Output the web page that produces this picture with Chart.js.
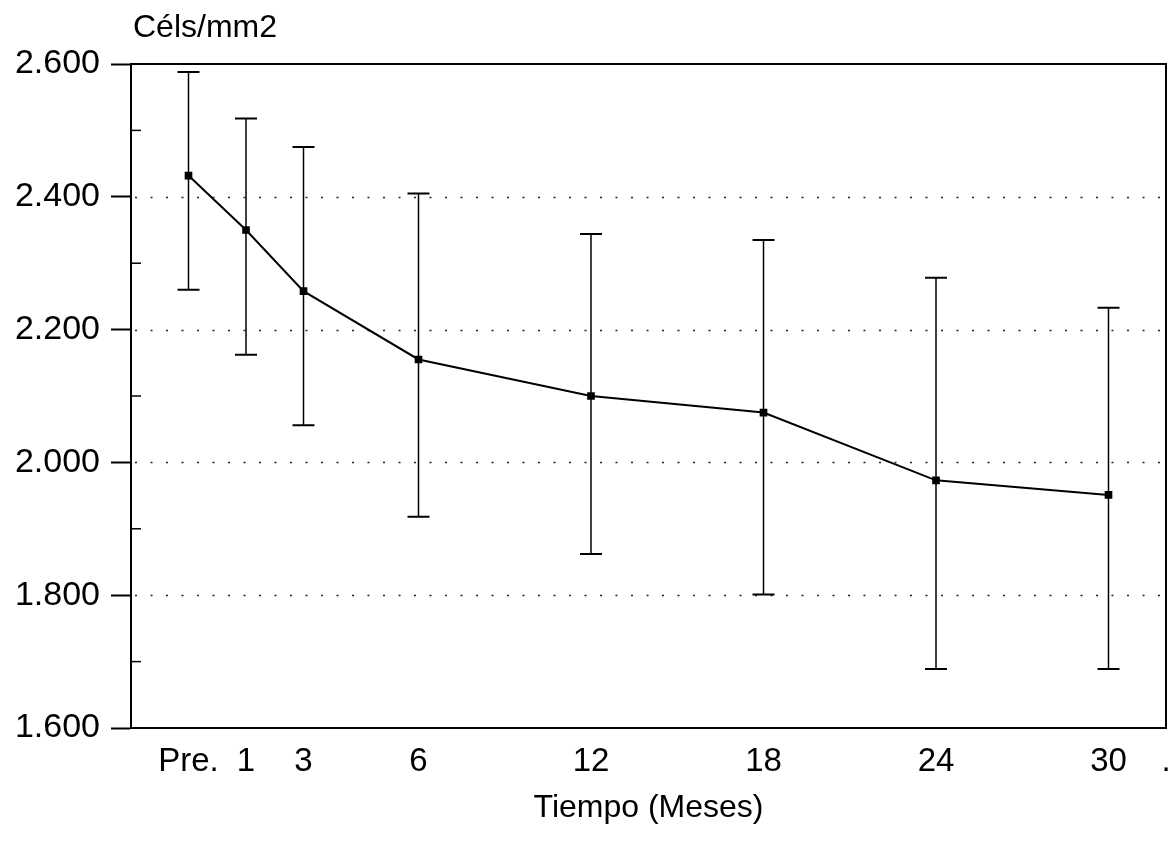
<!DOCTYPE html>
<html>
<head>
<meta charset="utf-8">
<script src="https://cdn.jsdelivr.net/npm/chart.js@4.4.1/dist/chart.umd.min.js"></script>
<style>
  html, body { margin: 0; padding: 0; background: #ffffff; }
  #wrap { width: 1172px; height: 846px; }
</style>
</head>
<body>
<div id="wrap"><canvas id="c" width="1172" height="846"></canvas></div>
<script>
// Category slots of the time axis (blank slots keep the original uneven spacing)
const slotLabels = ['', 'Pre.', '1', '3', '', '6', '', '', '12', '', '', '18', '', '', '24', '', '', '30', '.'];
// Time points (months)
const months = ['Pre.', '1', '3', '6', '12', '18', '24', '30'];
// Mean cell density (cells/mm2)
const means = [2432, 2350, 2258, 2155, 2100, 2075, 1973, 1951];
// Upper and lower ends of the error bars
const upper = [2588, 2518, 2475, 2405, 2344, 2335, 2278, 2233];
const lower = [2260, 2162, 2056, 1918, 1862, 1801, 1689, 1689];
// Y axis range and tick steps
const yMin = 1600, yMax = 2600, yMajor = 200, yMinor = 100;

const INK = '#000000';
const FONT = '"Liberation Sans", Arial, Helvetica, sans-serif';

function fmtThousands(v) {
  const th = Math.floor(v / 1000);
  const rest = String(Math.round(v % 1000)).padStart(3, '0');
  return th + '.' + rest;
}

const framePlugin = {
  id: 'frame',
  afterDraw(chart) {
    const { ctx, chartArea: a } = chart;
    ctx.save();
    ctx.strokeStyle = INK;
    ctx.lineWidth = 2;
    ctx.beginPath();
    ctx.moveTo(a.left, a.top);
    ctx.lineTo(a.right, a.top);
    ctx.lineTo(a.right, a.bottom);
    ctx.stroke();
    // minor ticks inside the left axis
    const ys = chart.scales.y;
    ctx.lineWidth = 1.5;
    ys.ticks.forEach(t => {
      if (t.value % yMajor !== 0) {
        const y = ys.getPixelForValue(t.value);
        ctx.beginPath();
        ctx.moveTo(a.left, y);
        ctx.lineTo(a.left + 10, y);
        ctx.stroke();
      }
    });
    // unit label
    ctx.fillStyle = INK;
    ctx.font = '32px ' + FONT;
    ctx.textAlign = 'left';
    ctx.textBaseline = 'alphabetic';
    ctx.fillText('Céls/mm2', a.left + 2, 37);
    ctx.restore();
  }
};

const dottedGridPlugin = {
  id: 'dottedGrid',
  beforeDatasetsDraw(chart) {
    const { ctx, chartArea: a } = chart;
    const ys = chart.scales.y;
    ctx.save();
    ctx.strokeStyle = '#222222';
    ctx.lineWidth = 1.6;
    ctx.setLineDash([2, 13.5]);
    ys.ticks.forEach(t => {
      if (t.value % yMajor === 0 && t.value > ys.min && t.value < ys.max) {
        const y = Math.round(ys.getPixelForValue(t.value)) + 0.5;
        ctx.beginPath();
        ctx.moveTo(a.left + 4, y);
        ctx.lineTo(a.right, y);
        ctx.stroke();
      }
    });
    ctx.restore();
  }
};

const errorBarPlugin = {
  id: 'errorBars',
  beforeDatasetsDraw(chart) {
    const { ctx } = chart;
    const ys = chart.scales.y;
    const xs = chart.scales.x;
    ctx.save();
    ctx.strokeStyle = INK;
    months.forEach((m, i) => {
      const x = xs.getPixelForValue(slotLabels.indexOf(m));
      const yHi = ys.getPixelForValue(upper[i]);
      const yLo = ys.getPixelForValue(lower[i]);
      ctx.lineWidth = 1.5;
      ctx.beginPath();
      ctx.moveTo(x, yHi);
      ctx.lineTo(x, yLo);
      ctx.stroke();
      ctx.lineWidth = 2;
      ctx.beginPath();
      ctx.moveTo(x - 11, yHi);
      ctx.lineTo(x + 11, yHi);
      ctx.moveTo(x - 11, yLo);
      ctx.lineTo(x + 11, yLo);
      ctx.stroke();
    });
    ctx.restore();
  }
};

new Chart(document.getElementById('c'), {
  type: 'line',
  data: {
    labels: slotLabels,
    datasets: [{
      data: months.map((m, i) => ({ x: m, y: means[i] })),
      borderColor: INK,
      borderWidth: 2,
      pointStyle: 'rect',
      pointRadius: 4,
      pointBackgroundColor: INK,
      pointBorderColor: INK,
      tension: 0,
      fill: false
    }]
  },
  options: {
    responsive: false,
    animation: false,
    devicePixelRatio: 1,
    layout: { padding: { top: 64, right: 4, left: 0, bottom: 0 } },
    plugins: { legend: { display: false }, tooltip: { enabled: false } },
    scales: {
      x: {
        type: 'category',
        offset: false,
        ticks: {
          autoSkip: false,
          maxRotation: 0,
          padding: 14,
          color: INK,
          font: { family: FONT, size: 33 }
        },
        grid: { drawOnChartArea: false, drawTicks: false },
        border: { display: true, color: INK, width: 2 },
        title: {
          display: true,
          text: 'Tiempo (Meses)',
          color: INK,
          font: { family: FONT, size: 32 },
          padding: { top: 0, bottom: 19 }
        },
        afterFit(scale) {
          scale.height = 118;
          scale.paddingLeft = 0;
          scale.paddingRight = 0;
        }
      },
      y: {
        min: yMin,
        max: yMax,
        ticks: {
          stepSize: yMinor,
          autoSkip: false,
          padding: 11,
          color: INK,
          font: { family: FONT, size: 34 },
          callback: v => (v % yMajor === 0 ? fmtThousands(v) : '')
        },
        grid: {
          drawOnChartArea: false,
          drawTicks: true,
          tickLength: 20,
          tickWidth: 2,
          tickColor: c => (c.tick && c.tick.value % yMajor === 0 ? INK : 'rgba(0,0,0,0)')
        },
        border: { display: true, color: INK, width: 2 },
        afterFit(scale) { scale.width = 131; }
      }
    }
  },
  plugins: [dottedGridPlugin, errorBarPlugin, framePlugin]
});
</script>
</body>
</html>
